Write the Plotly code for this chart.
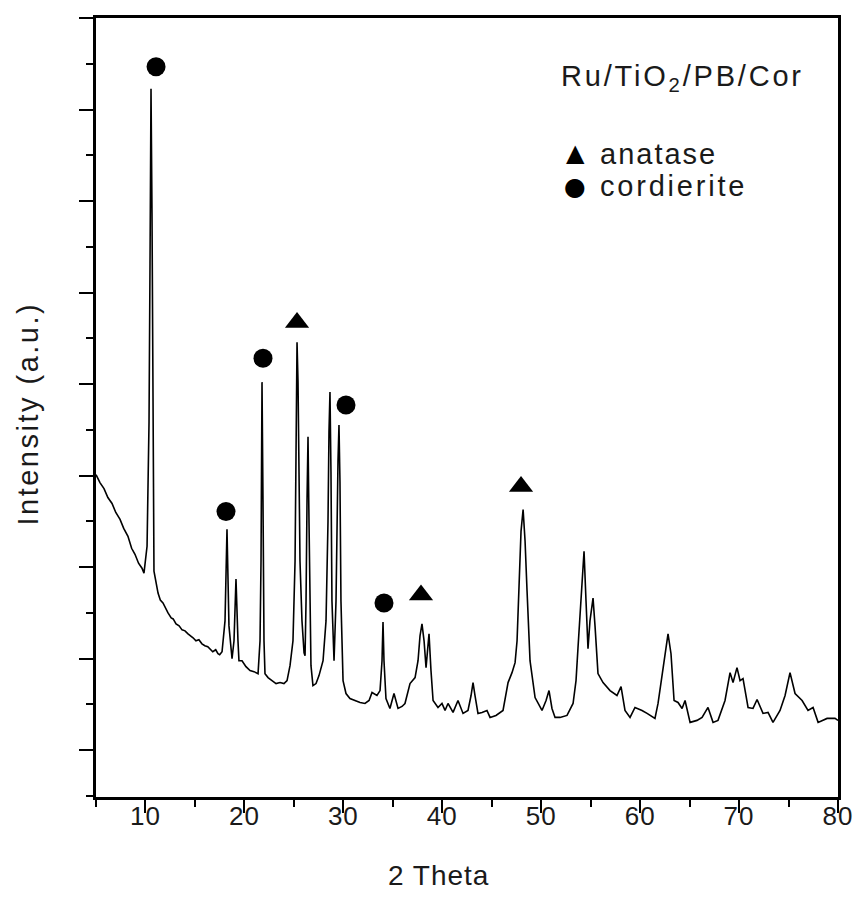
import plotly.graph_objects as go

# XRD pattern (2 theta in degrees, intensity in arbitrary units)
two_theta = [5.00, 5.40, 5.81, 6.20, 6.62, 7.00, 7.43, 7.80, 8.23, 8.60, 8.94, 9.30, 9.65, 9.85,
             10.16, 10.36, 10.46, 10.56, 10.66, 10.76, 10.86,
             11.27, 11.50, 11.77, 12.00, 12.28, 12.60, 12.80, 13.09, 13.40, 13.70, 14.00, 14.30, 14.60,
             14.81, 15.10, 15.40, 15.71, 16.00, 16.30, 16.52, 16.80, 17.10, 17.33, 17.50, 17.74,
             18.04, 18.24, 18.44, 18.75,
             18.95, 19.15, 19.35, 19.45, 19.76, 20.16, 20.57, 20.97, 21.38, 21.58, 21.68, 21.78, 21.88, 21.98,
             22.08, 22.39, 22.79, 23.20, 23.60, 24.00, 24.31, 24.61, 24.91, 25.12, 25.22, 25.32, 25.42, 25.52,
             25.62, 25.82, 26.03, 26.13, 26.23, 26.33, 26.43, 26.53, 26.63, 26.73, 26.93, 27.24, 27.54, 27.95,
             28.25, 28.45, 28.55, 28.65, 28.75, 28.85, 29.06, 29.26, 29.46, 29.56, 29.66, 29.76, 29.97, 30.27,
             30.67, 31.18, 31.69, 32.19, 32.60, 32.90, 33.40, 33.71, 33.91, 34.01, 34.11, 34.31, 34.71, 35.12,
             35.53, 35.93, 36.23, 36.74, 37.25, 37.55, 37.75, 37.95, 38.16, 38.36, 38.56, 38.66, 38.86, 39.07,
             39.57, 39.97, 40.28, 40.58, 41.09, 41.59, 42.10, 42.60, 42.91, 43.11, 43.31, 43.61, 44.02, 44.52,
             44.83, 45.43, 46.14, 46.65, 47.05, 47.36, 47.56, 47.76, 47.96, 48.17, 48.37, 48.57, 48.87, 49.38,
             49.68, 50.08, 50.49, 50.79, 51.09, 51.40, 51.90, 52.61, 53.22, 53.52, 53.72, 54.02, 54.33, 54.53,
             54.73, 54.93, 55.24, 55.44, 55.74, 56.25, 56.96, 57.66, 58.07, 58.47, 58.98, 59.48, 60.19, 60.70,
             61.50, 61.81, 62.21, 62.51, 62.82, 63.12, 63.43, 63.83, 64.24, 64.54, 65.05, 65.75, 66.26, 66.86,
             67.37, 67.87, 68.58, 69.09, 69.39, 69.79, 70.10, 70.40, 70.91, 71.41, 71.82, 72.42, 72.93, 73.43,
             74.14, 74.65, 75.15, 75.66, 76.37, 76.97, 77.48, 77.99, 78.90, 79.70, 80.00]
intensity = [324, 316, 310, 301, 295, 286, 279, 270, 262, 250, 244, 235, 230, 225,
             252, 377, 537, 712, 587, 327, 227,
             205, 198, 195, 190, 185, 180, 179, 174, 172, 168, 167, 164, 162,
             160, 157, 158, 154, 152, 151, 149, 146, 148, 144, 143, 146,
             177, 269, 172, 139,
             157, 219, 157, 137, 137, 131, 127, 126, 124, 157, 237, 417, 297, 157,
             124, 120, 117, 114, 115, 114, 117, 132, 157, 237, 347, 457, 417, 317,
             237, 177, 145, 142, 197, 297, 362, 277, 177, 132, 112, 114, 122, 137,
             177, 277, 367, 407, 327, 197, 137, 197, 337, 374, 317, 197, 117, 104,
             99, 97, 95, 94, 97, 105, 102, 107, 137, 176, 137, 99, 89, 104,
             89, 91, 94, 114, 120, 137, 162, 174, 157, 130, 157, 164, 127, 97,
             90, 94, 87, 94, 85, 97, 84, 87, 102, 115, 102, 84, 85, 87,
             80, 82, 87, 115, 125, 135, 157, 207, 267, 289, 257, 207, 137, 100,
             95, 87, 97, 107, 89, 80, 80, 82, 94, 117, 150, 197, 247, 197,
             149, 177, 200, 172, 124, 115, 107, 102, 111, 87, 80, 90, 87, 84,
             79, 94, 124, 142, 164, 144, 97, 95, 89, 97, 75, 77, 80, 90,
             75, 77, 97, 125, 115, 130, 117, 119, 90, 89, 98, 84, 85, 75,
             87, 102, 125, 104, 97, 87, 90, 75, 79, 79, 77]

# phase markers placed above the peaks
cordierite_x = [11.07, 18.14, 21.88, 30.27, 34.11]
cordierite_y = [734, 287, 441, 394, 195]
anatase_x = [25.32, 37.85, 47.96]
anatase_y = [477, 203, 312]

x_ticks = [10, 20, 30, 40, 50, 60, 70, 80]
x_minor = [5, 15, 25, 35, 45, 55, 65, 75]

FONT = "Arial, Liberation Sans, sans-serif"
TXT = "#1a1a1a"


def spaced(s, px):
    return '<span style="letter-spacing:%spx">%s</span>' % (px, s)


fig = go.Figure()
fig.add_trace(go.Scatter(x=two_theta, y=intensity, mode="lines",
                         line=dict(color="black", width=1.6), showlegend=False,
                         hoverinfo="skip"))
fig.add_trace(go.Scatter(x=anatase_x, y=anatase_y, mode="markers", name="anatase",
                         marker=dict(symbol="triangle-up", size=21, color="black"),
                         showlegend=False))
fig.add_trace(go.Scatter(x=cordierite_x, y=cordierite_y, mode="markers", name="cordierite",
                         marker=dict(symbol="circle", size=19, color="black"),
                         showlegend=False))

annotations = [
    # sample label
    dict(x=0.624, y=0.923, xref="paper", yref="paper", xanchor="left", yanchor="middle",
         showarrow=False, text=spaced("Ru/TiO<sub>2</sub>/PB/Cor", 2.8),
         font=dict(size=29, family=FONT, color=TXT)),
    # legend keys
    dict(x=0.6456, y=0.827, xref="paper", yref="paper", xanchor="center", yanchor="middle",
         showarrow=False, text="▲", font=dict(size=24, family="DejaVu Sans", color="black")),
    dict(x=0.677, y=0.8255, xref="paper", yref="paper", xanchor="left", yanchor="middle",
         showarrow=False, text=spaced("anatase", 2), font=dict(size=29, family=FONT, color=TXT)),
    dict(x=0.6456, y=0.7835, xref="paper", yref="paper", xanchor="center", yanchor="middle",
         showarrow=False, text="●", font=dict(size=25, family="DejaVu Sans", color="black")),
    dict(x=0.677, y=0.7845, xref="paper", yref="paper", xanchor="left", yanchor="middle",
         showarrow=False, text=spaced("cordierite", 2.8), font=dict(size=29, family=FONT, color=TXT)),
    # axis titles
    dict(x=0.4622, y=-0.101, xref="paper", yref="paper", xanchor="center", yanchor="middle",
         showarrow=False, text=spaced("2 Theta", 1), font=dict(size=28, family=FONT, color=TXT)),
    dict(x=-0.0916, y=0.4923, xref="paper", yref="paper", xanchor="center", yanchor="middle",
         showarrow=False, textangle=-90, text=spaced("Intensity (a.u.)", 2.5),
         font=dict(size=29, family=FONT, color=TXT)),
]

fig.update_layout(
    width=861, height=904,
    margin=dict(l=88, r=31, t=7, b=115),
    paper_bgcolor="white", plot_bgcolor="white",
    font=dict(family=FONT, color=TXT, size=26),
    showlegend=False,
    annotations=annotations,
)
fig.update_xaxes(range=[5, 80], tickmode="array", tickvals=x_ticks,
                 ticktext=[spaced(str(t), 1) for t in x_ticks],
                 ticks="outside", ticklen=13, tickwidth=2, tickcolor="black",
                 ticklabelstandoff=-19,
                 minor=dict(ticks="outside", ticklen=7, tickwidth=2, tickcolor="black",
                            tickmode="array", tickvals=x_minor),
                 showline=True, linewidth=2.5, linecolor="black", mirror=True,
                 showgrid=False, zeroline=False,
                 tickfont=dict(size=26, family=FONT, color=TXT))
fig.update_yaxes(range=[0, 783], tick0=47, dtick=92,
                 ticks="outside", ticklen=14, tickwidth=2, tickcolor="black",
                 minor=dict(ticks="outside", ticklen=7, tickwidth=2, tickcolor="black",
                            tick0=1, dtick=46),
                 showticklabels=False,
                 showline=True, linewidth=2.5, linecolor="black", mirror=True,
                 showgrid=False, zeroline=False)

fig.write_html("out.html")
